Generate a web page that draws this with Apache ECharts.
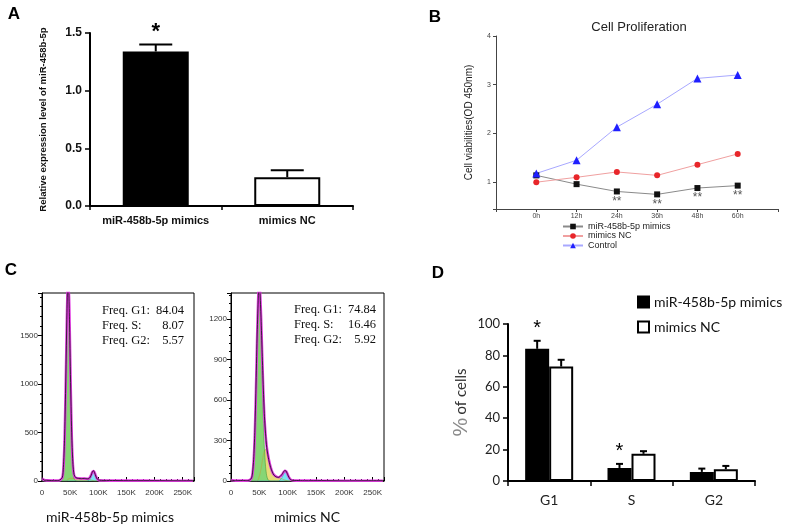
<!DOCTYPE html>
<html><head><meta charset="utf-8">
<script src="https://cdn.jsdelivr.net/npm/echarts/dist/echarts.min.js"></script>
<style>html,body{margin:0;padding:0;background:#fff}#c{width:788px;height:530px}</style>
</head><body><div id="c"></div>
<script>
// ---------- Panel A ----------
const aCats = ['miR-458b-5p mimics', 'mimics NC'];
const aMeans = [1.34, 0.25];
const aErrs = [0.06, 0.06];
const aStars = ['*', ''];

// ---------- Panel B ----------
const bHours = [0, 12, 24, 36, 48, 60];
const bMimics = [1.14, 0.96, 0.81, 0.75, 0.88, 0.93];
const bNC = [1.00, 1.10, 1.21, 1.14, 1.36, 1.58];
const bControl = [1.18, 1.45, 2.13, 2.60, 3.13, 3.20];
const bStars = ['', '', '**', '**', '**', '**'];
const bNames = ['miR-458b-5p mimics', 'mimics NC', 'Control'];

// ---------- Panel C (histograms, x in thousands) ----------
const xL = [0, 2, 4, 8, 20, 30, 36, 38, 40, 42, 44, 45, 46, 47, 48, 49, 51, 53, 55, 57, 60, 65, 70, 75, 80, 83.5, 85.5, 87.5, 89.5, 91.5, 93.5, 95.5, 97.5, 99.5, 102, 110, 130, 160, 200, 240, 268];
const g1L = [0, 0, 0, 0, 0, 0, 29, 126, 401, 938, 1611, 1879, 2030, 2030, 1879, 1611, 938, 401, 126, 29, 2, 0, 0, 0, 0, 0, 0, 0, 0, 0, 0, 0, 0, 0, 0, 0, 0, 0, 0, 0, 0];
const sL = [0, 0, 0, 0, 0, 0, 0, 0, 0, 0, 0, 10, 18, 22, 25, 27, 28, 28, 27, 26, 25, 23, 21, 20, 18, 16, 14, 11, 7, 3, 0, 0, 0, 0, 0, 0, 0, 0, 0, 0, 0];
const g2L = [0, 0, 0, 0, 0, 0, 0, 0, 0, 0, 0, 0, 0, 0, 0, 0, 0, 0, 0, 0, 0, 0, 0, 0, 0, 7, 22, 49, 81, 95, 81, 49, 22, 7, 1, 0, 0, 0, 0, 0, 0];
const fitL = [25, 18, 10, 6, 5, 5, 34, 131, 406, 943, 1616, 1894, 2053, 2057, 1909, 1643, 971, 434, 158, 60, 32, 28, 26, 25, 23, 28, 41, 65, 93, 103, 86, 54, 27, 12, 6, 5, 4, 4, 3, 3, 3];
const dataL = [22, 20, 8, 7, 4, 6, 36, 140, 420, 960, 1640, 1920, 2080, 2040, 1880, 1600, 950, 445, 170, 65, 35, 26, 24, 27, 22, 25, 38, 62, 96, 106, 84, 52, 25, 14, 8, 6, 5, 3, 4, 2, 3];

const xR = [0, 3, 8, 20, 30, 36, 38, 40, 42, 44, 46, 48, 49.6, 51, 53, 55, 57, 59, 61, 63, 65, 67, 70, 73, 76, 80, 84, 87, 89, 91, 93, 95, 97, 99, 101, 103, 105, 108, 115, 130, 160, 200, 240, 268];
const g1R = [0, 0, 0, 0, 0, 15, 52, 147, 342, 659, 1038, 1343, 1430, 1374, 1135, 798, 478, 244, 106, 39, 12, 3, 0, 0, 0, 0, 0, 0, 0, 0, 0, 0, 0, 0, 0, 0, 0, 0, 0, 0, 0, 0, 0, 0];
const sR = [0, 0, 0, 0, 0, 0, 0, 0, 0, 0, 0, 10, 30, 50, 90, 140, 190, 225, 235, 215, 185, 150, 100, 62, 42, 30, 25, 22, 18, 14, 10, 7, 4, 2, 0, 0, 0, 0, 0, 0, 0, 0, 0, 0];
const g2R = [0, 0, 0, 0, 0, 0, 0, 0, 0, 0, 0, 0, 0, 0, 0, 0, 0, 0, 0, 0, 0, 0, 0, 0, 0, 0, 0, 9, 20, 36, 54, 65, 65, 54, 36, 20, 9, 2, 0, 0, 0, 0, 0, 0];
const fitR = [8, 5, 3, 3, 3, 18, 55, 150, 345, 662, 1041, 1356, 1463, 1427, 1228, 941, 671, 472, 344, 257, 200, 156, 103, 65, 45, 33, 28, 34, 41, 53, 67, 75, 72, 59, 39, 23, 12, 5, 3, 3, 2, 2, 2, 2];
const dataR = [6, 4, 2, 4, 2, 20, 60, 160, 360, 680, 1060, 1340, 1480, 1410, 1210, 950, 690, 480, 350, 250, 195, 150, 100, 66, 42, 30, 27, 35, 44, 55, 70, 78, 74, 58, 38, 22, 11, 5, 4, 2, 3, 1, 2, 2];

const freqLabels = ['Freq. G1:', 'Freq. S:', 'Freq. G2:'];
const freqMimics = ['84.04', '8.07', '5.57'];
const freqNC = ['74.84', '16.46', '5.92'];

// ---------- Panel D ----------
const dCats = ['G1', 'S', 'G2'];
const dMimics = [84.2, 8.3, 5.8];
const dMimicsErr = [5.1, 2.6, 2.1];
const dNC = [72.9, 17.3, 7.5];
const dNCErr = [4.3, 1.7, 2.1];
const dStars = ['*', '*', ''];
const dLegend = {D1: 'miR-458b-5p mimics', D2: 'mimics NC'};

const SANS = 'Liberation Sans, Arial, sans-serif';
const CAL = 'Lato, sans-serif';
const SERIF = 'Liberation Serif, serif';

const chart = echarts.init(document.getElementById('c'), null, {renderer: 'canvas'});

function pairs(xs, ys) { return xs.map((x, i) => [x, ys[i]]); }

function histSeries(gi, xs, g1, s, g2, fit, dat) {
  const base = {type: 'line', xAxisIndex: gi, yAxisIndex: gi, symbol: 'none', smooth: 0.25, clip: true, silent: true};
  return [
    Object.assign({}, base, {data: pairs(xs, s), lineStyle: {width: 0.6, color: '#b8a83a'}, areaStyle: {color: '#e6dc78', opacity: 1}}),
    Object.assign({}, base, {data: pairs(xs, g1), lineStyle: {width: 0.6, color: '#4a9a3a'}, areaStyle: {color: '#86d675', opacity: 1}}),
    Object.assign({}, base, {data: pairs(xs, g2), lineStyle: {width: 0.6, color: '#2a9ab0'}, areaStyle: {color: '#7ae4f4', opacity: 1}}),
    Object.assign({}, base, {data: pairs(xs, fit), lineStyle: {width: 2.6, color: '#e23ce2'}}),
    Object.assign({}, base, {data: pairs(xs, dat), lineStyle: {width: 0.8, color: '#111'}})
  ];
}

function histAxes(gi, ymax, yint) {
  return {
    x: {type: 'value', gridIndex: gi, min: 0, max: 270, interval: 50,
      axisLine: {show: true, lineStyle: {color: '#000', width: 1.5}},
      axisTick: {show: true, inside: true, length: 4, lineStyle: {color: '#000'}},
      minorTick: {show: true, splitNumber: 5, length: 2, lineStyle: {color: '#000'}},
      splitLine: {show: false},
      axisLabel: {fontSize: 8, fontFamily: SANS, color: '#333', margin: 8,
        formatter: v => v === 0 ? '0' : (v % 50 === 0 ? v + 'K' : '')}},
    y: {type: 'value', gridIndex: gi, min: 0, max: ymax, interval: yint,
      axisLine: {show: true, lineStyle: {color: '#000', width: 1}},
      axisTick: {show: true, length: 4, lineStyle: {color: '#000'}},
      minorTick: {show: true, splitNumber: 5, length: 2, lineStyle: {color: '#000'}},
      splitLine: {show: false},
      axisLabel: {fontSize: 8, fontFamily: SANS, color: '#333', margin: 4,
        formatter: v => (v % yint === 0) ? String(v) : ''}}
  };
}

const hL = histAxes(2, 1940, 500);
const hR = histAxes(3, 1394, 300);

const dBarW = 24;

function errItem(params, api, barW, stars, capW, starSize, fontWeight) {
  const ci = api.value(0), m = api.value(1), e = api.value(2), side = api.value(3);
  const p0 = api.coord([ci, m]);
  const p1 = api.coord([ci, m + e]);
  const x = p0[0] + side * barW / 2;
  const children = [
    {type: 'line', shape: {x1: x, y1: p0[1], x2: x, y2: p1[1]}, style: {stroke: '#000', lineWidth: 2}},
    {type: 'line', shape: {x1: x - capW / 2, y1: p1[1], x2: x + capW / 2, y2: p1[1]}, style: {stroke: '#000', lineWidth: 2}}
  ];
  const st = stars[params.dataIndex];
  if (st) {
    children.push({type: 'text', x: x, y: p1[1] - 2, style: {text: st, align: 'center', verticalAlign: 'bottom',
      font: fontWeight + ' ' + starSize + 'px ' + SANS, fill: '#000'}});
  }
  return {type: 'group', children: children};
}

const aErrData = aMeans.map((m, i) => [i, m, aErrs[i], 0]);
const dErrData = dMimics.map((m, i) => [i, m, dMimicsErr[i], -1]).concat(dNC.map((m, i) => [i, m, dNCErr[i], 1]));
const dErrStars = dStars.concat(dCats.map(() => ''));

const graphics = [
  {type: 'text', x: 14, y: 14, style: {text: 'A', align: 'center', verticalAlign: 'middle', font: 'bold 17px ' + SANS, fill: '#000'}},
  {type: 'text', x: 435, y: 17, style: {text: 'B', align: 'center', verticalAlign: 'middle', font: 'bold 17px ' + SANS, fill: '#000'}},
  {type: 'text', x: 11, y: 270, style: {text: 'C', align: 'center', verticalAlign: 'middle', font: 'bold 17px ' + SANS, fill: '#000'}},
  {type: 'text', x: 438, y: 273, style: {text: 'D', align: 'center', verticalAlign: 'middle', font: 'bold 17px ' + SANS, fill: '#000'}},
  {type: 'text', x: 639, y: 27, style: {text: 'Cell Proliferation', align: 'center', verticalAlign: 'middle', font: '13px ' + SANS, fill: '#222'}},
  {type: 'text', x: 110, y: 517, style: {text: 'miR-458b-5p mimics', align: 'center', verticalAlign: 'middle', font: '14px ' + CAL, fill: '#111'}},
  {type: 'text', x: 307, y: 517, style: {text: 'mimics NC', align: 'center', verticalAlign: 'middle', font: '14px ' + CAL, fill: '#111'}}
];
freqLabels.forEach((t, i) => {
  graphics.push({type: 'text', x: 102, y: 311 + i * 15, style: {text: t, align: 'left', verticalAlign: 'middle', font: '12.5px ' + SERIF, fill: '#111'}});
  graphics.push({type: 'text', x: 184, y: 311 + i * 15, style: {text: freqMimics[i], align: 'right', verticalAlign: 'middle', font: '12.5px ' + SERIF, fill: '#111'}});
  graphics.push({type: 'text', x: 294, y: 310 + i * 15, style: {text: t, align: 'left', verticalAlign: 'middle', font: '12.5px ' + SERIF, fill: '#111'}});
  graphics.push({type: 'text', x: 376, y: 310 + i * 15, style: {text: freqNC[i], align: 'right', verticalAlign: 'middle', font: '12.5px ' + SERIF, fill: '#111'}});
});

const option = {
  backgroundColor: '#fff',
  animation: false,
  graphic: graphics,
  grid: [
    {left: 90, top: 33, width: 263, height: 173},
    {left: 496, top: 36, width: 282, height: 173},
    {left: 42, top: 293, width: 152, height: 188, show: true, borderColor: '#000', borderWidth: 1, backgroundColor: 'transparent'},
    {left: 231, top: 293, width: 153, height: 188, show: true, borderColor: '#000', borderWidth: 1, backgroundColor: 'transparent'},
    {left: 508, top: 324, width: 247, height: 157}
  ],
  legend: [
    {data: bNames, orient: 'vertical', left: 562, top: 222, itemWidth: 20, itemHeight: 7, itemGap: 0.5,
      textStyle: {fontSize: 9, fontFamily: SANS, color: '#222', lineHeight: 9}, padding: 0, selectedMode: false},
    {data: ['D1', 'D2'], orient: 'vertical', left: 637, top: 295, itemWidth: 11, itemHeight: 11, itemGap: 11, icon: 'rect',
      formatter: n => dLegend[n], textStyle: {fontSize: 14, fontFamily: CAL, color: '#111', lineHeight: 14}, padding: 0, selectedMode: false}
  ],
  xAxis: [
    {type: 'category', gridIndex: 0, data: aCats,
      axisLine: {lineStyle: {color: '#000', width: 2}},
      axisTick: {show: true, length: 4, lineStyle: {color: '#000', width: 1.5}},
      axisLabel: {interval: 0, hideOverlap: false, fontSize: 11, fontWeight: 'bold', fontFamily: SANS, color: '#111', margin: 9}},
    {type: 'value', gridIndex: 1, min: -12, max: 72, interval: 12,
      axisLine: {onZero: false, lineStyle: {color: '#444', width: 1}},
      axisTick: {show: true, length: 3, lineStyle: {color: '#444'}},
      splitLine: {show: false},
      axisLabel: {fontSize: 7, fontFamily: SANS, color: '#444', margin: 4,
        formatter: v => (v >= 0 && v <= 60) ? v + 'h' : ''}},
    hL.x, hR.x,
    {type: 'category', gridIndex: 4, data: dCats,
      axisLine: {lineStyle: {color: '#000', width: 2}},
      axisTick: {show: true, length: 5, lineStyle: {color: '#000', width: 1.5}},
      axisLabel: {interval: 0, fontSize: 14, fontFamily: CAL, color: '#222', margin: 12}}
  ],
  yAxis: [
    {type: 'value', gridIndex: 0, min: 0, max: 1.5, interval: 0.5,
      name: 'Relative expression level of miR-458b-5p', nameLocation: 'middle', nameGap: 42,
      nameTextStyle: {fontSize: 9.5, fontWeight: 'bold', fontFamily: SANS, color: '#111'},
      axisLine: {show: true, lineStyle: {color: '#000', width: 2}},
      axisTick: {show: true, length: 5, lineStyle: {color: '#000', width: 1.5}},
      splitLine: {show: false},
      axisLabel: {fontSize: 12, fontWeight: 'bold', fontFamily: SANS, color: '#111', margin: 8,
        formatter: v => v.toFixed(1)}},
    {type: 'value', gridIndex: 1, min: 0.45, max: 4,
      name: 'Cell viabilities(OD 450nm)', nameLocation: 'middle', nameGap: 22,
      nameTextStyle: {fontSize: 10, fontFamily: SANS, color: '#222'},
      axisLine: {show: true, onZero: false, lineStyle: {color: '#444', width: 1}},
      axisTick: {show: true, length: 3, lineStyle: {color: '#444'}},
      splitLine: {show: false},
      axisLabel: {fontSize: 7, fontFamily: SANS, color: '#444', margin: 5,
        formatter: v => Math.abs(v - Math.round(v)) < 1e-9 ? String(Math.round(v)) : ''}},
    hL.y, hR.y,
    {type: 'value', gridIndex: 4, min: 0, max: 100, interval: 20,
      name: '{p|%} {t|of cells}', nameLocation: 'middle', nameGap: 36,
      nameTextStyle: {rich: {p: {fontSize: 21, fontFamily: SANS, color: '#8a8a8a', fontWeight: 'lighter'},
        t: {fontSize: 15, fontFamily: CAL, color: '#333'}}},
      axisLine: {show: true, lineStyle: {color: '#000', width: 2}},
      axisTick: {show: true, length: 5, lineStyle: {color: '#000', width: 1.5}},
      splitLine: {show: false},
      axisLabel: {fontSize: 13, fontFamily: CAL, color: '#222', margin: 8}}
  ],
  series: [
    // Panel A
    {type: 'bar', xAxisIndex: 0, yAxisIndex: 0, barWidth: 66, silent: true,
      data: aMeans.map((v, i) => ({value: v, itemStyle: i === 0 ? {color: '#000'} : {color: '#fff', borderColor: '#000', borderWidth: 2}}))},
    {type: 'custom', xAxisIndex: 0, yAxisIndex: 0, data: aErrData, silent: true, z: 5,
      renderItem: (p, api) => errItem(p, api, 0, aStars, 33, 22, 'bold')},
    // Panel B
    {type: 'line', name: bNames[0], xAxisIndex: 1, yAxisIndex: 1, data: pairs(bHours, bMimics),
      symbol: 'rect', symbolSize: 6, itemStyle: {color: '#111'}, lineStyle: {color: '#8a8a8a', width: 1},
      label: {show: true, position: 'bottom', distance: 1, formatter: p => bStars[p.dataIndex], fontSize: 12, color: '#555', fontFamily: SANS}},
    {type: 'line', name: bNames[1], xAxisIndex: 1, yAxisIndex: 1, data: pairs(bHours, bNC),
      symbol: 'circle', symbolSize: 6, itemStyle: {color: '#e8262a'}, lineStyle: {color: '#f0a0a0', width: 1}},
    {type: 'line', name: bNames[2], xAxisIndex: 1, yAxisIndex: 1, data: pairs(bHours, bControl),
      symbol: 'triangle', symbolSize: 8, itemStyle: {color: '#1f1fff'}, lineStyle: {color: '#a8a8ff', width: 1}},
    // Panel C
    ...histSeries(2, xL, g1L, sL, g2L, fitL, dataL),
    ...histSeries(3, xR, g1R, sR, g2R, fitR, dataR),
    // Panel D
    {type: 'bar', name: 'D1', xAxisIndex: 4, yAxisIndex: 4, barWidth: dBarW, barGap: '0%', data: dMimics, silent: true,
      itemStyle: {color: '#000', borderColor: '#000', borderWidth: 1.5}},
    {type: 'bar', name: 'D2', xAxisIndex: 4, yAxisIndex: 4, barWidth: dBarW, barGap: '0%', data: dNC, silent: true,
      itemStyle: {color: '#fff', borderColor: '#000', borderWidth: 2}},
    {type: 'custom', xAxisIndex: 4, yAxisIndex: 4, data: dErrData, silent: true, z: 5,
      renderItem: (p, api) => errItem(p, api, dBarW, dErrStars, 7, 20, 'normal')}
  ]
};
chart.setOption(option);
</script></body></html>
